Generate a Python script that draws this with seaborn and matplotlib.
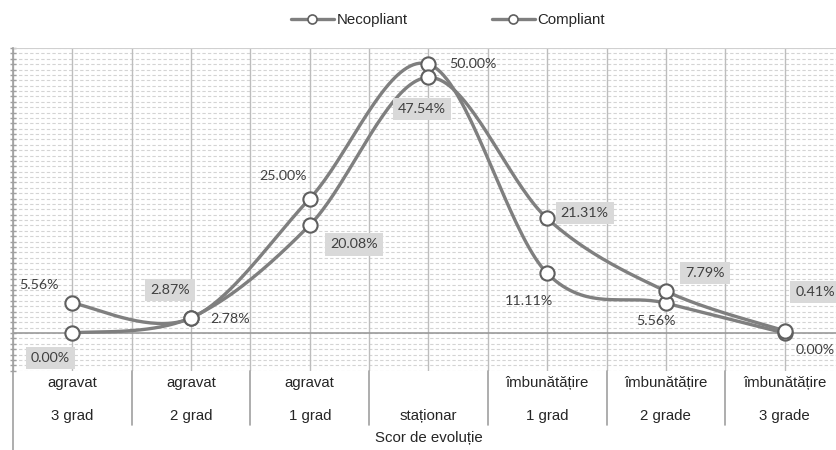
import numpy as np
import pandas as pd
import matplotlib
matplotlib.use("Agg")
import matplotlib.pyplot as plt
from matplotlib.lines import Line2D
import seaborn as sns

# --- data -----------------------------------------------------------------
cat_top = ["agravat", "agravat", "agravat", "", "îmbunătățire", "îmbunătățire", "îmbunătățire"]
cat_bottom = ["3 grad", "2 grad", "1 grad", "staționar", "1 grad", "2 grade", "3 grade"]
necopliant = [5.56, 2.78, 25.00, 50.00, 11.11, 5.56, 0.00]
compliant = [0.00, 2.87, 20.08, 47.54, 21.31, 7.79, 0.41]
series_names = ["Necopliant", "Compliant"]
axis_title = "Scor de evoluție"

# label offsets in points (dx, dy) relative to each marker
nec_offsets = [(-24, 13), (28, -1), (-19, 16), (32, 0), (-13, -20), (-7, -13), (22, -12)]
comp_offsets = [(-16, -18), (-15, 20), (32, -14), (-5, -23), (27, 4), (28, 13), (22, 28)]

sns.set_theme(style="white")
plt.rcParams["font.family"] = ["Liberation Sans", "DejaVu Sans"]

LINE = "#7f7f7f"
EDGE = "#5f5f5f"
TXT = "#404040"
LABEL_FONT = ["Lato", "DejaVu Sans"]
AX_FS = 10.8
LB_FS = 10.3

fig = plt.figure(figsize=(8.37, 4.5), dpi=100)
W, H = 837, 450
left, right, top, bottom = 13, 844, 48, 370.7
ax = fig.add_axes([left / W, (H - bottom) / H, (right - left) / W, (bottom - top) / H])
ax.set_xlim(-0.5, 6.5)
ax.set_ylim(-7, 53)


def smooth(xs, ys, n=40):
    """Cubic Bezier smoothing through every point (Catmull-Rom style)."""
    p = np.column_stack([xs, ys]).astype(float)
    ext = np.vstack([p[0], p, p[-1]])
    out = []
    t = np.linspace(0, 1, n)[:, None]
    for i in range(len(p) - 1):
        p0, p1, p2, p3 = ext[i], ext[i + 1], ext[i + 2], ext[i + 3]
        c1 = p1 + (p2 - p0) / 6.0
        c2 = p2 - (p3 - p1) / 6.0
        seg = ((1 - t) ** 3) * p1 + 3 * ((1 - t) ** 2) * t * c1 + 3 * (1 - t) * t ** 2 * c2 + t ** 3 * p2
        out.append(seg if i == 0 else seg[1:])
    return np.vstack(out)


# grid: dashed horizontal every 1 %, vertical at centers and boundaries
for yv in np.arange(-7, 53.5, 1):
    ax.axhline(yv, color="#d4d4d4", lw=0.8, ls=(0, (3, 2)), zorder=0)
for xv in np.arange(-0.5, 6.6, 0.5):
    ax.axvline(xv, color="#bdbdbd", lw=1.0, zorder=0.5)
ax.axhline(0, color="#9a9a9a", lw=1.2, zorder=1)
ax.axhline(53, color="#d0d0d0", lw=1.5, zorder=1)

for s in ["top", "right", "bottom"]:
    ax.spines[s].set_visible(False)
ax.spines["left"].set_color("#a0a0a0")
ax.spines["left"].set_linewidth(1.2)
ax.set_xticks([])
ax.set_yticks(np.arange(-7, 54, 1))
ax.set_yticklabels([])
ax.tick_params(axis="y", direction="inout", length=5, width=1, color="#a0a0a0", left=True)

x = np.arange(len(cat_bottom))
for vals in (necopliant, compliant):
    curve = smooth(x, vals)
    df = pd.DataFrame({"x": curve[:, 0], "y": curve[:, 1]})
    sns.lineplot(data=df, x="x", y="y", sort=False, estimator=None, ax=ax,
                 color=LINE, lw=2.4, zorder=3)
for vals in (necopliant, compliant):
    sns.scatterplot(x=x, y=vals, ax=ax, s=105, color="white", edgecolor=EDGE,
                    linewidth=1.5, zorder=4)
ax.set_xlabel("")
ax.set_ylabel("")

# data labels
for i, (v, (dx, dy)) in enumerate(zip(necopliant, nec_offsets)):
    ax.annotate(f"{v:.2f}%", (i, v), xytext=(dx, dy), textcoords="offset points",
                ha="center", va="center", fontsize=LB_FS, color=TXT, family=LABEL_FONT,
                zorder=5)
for i, (v, (dx, dy)) in enumerate(zip(compliant, comp_offsets)):
    ax.annotate(f"{v:.2f}%", (i, v), xytext=(dx, dy), textcoords="offset points",
                ha="center", va="center", fontsize=LB_FS, color=TXT, family=LABEL_FONT,
                zorder=5,
                bbox=dict(boxstyle="square,pad=0.35", fc="#d9d9d9", ec="none"))

# category labels below the plot area
for i, (a, b) in enumerate(zip(cat_top, cat_bottom)):
    if a:
        ax.annotate(a, (i, 0), xycoords=("data", "axes fraction"), xytext=(0, -9),
                    textcoords="offset points", ha="center", va="center",
                    fontsize=AX_FS, color="#262626")
    ax.annotate(b, (i, 0), xycoords=("data", "axes fraction"), xytext=(0, -32.5),
                textcoords="offset points", ha="center", va="center",
                fontsize=AX_FS, color="#262626")
ax.annotate(axis_title, (3, 0), xycoords=("data", "axes fraction"), xytext=(0, -48.5),
            textcoords="offset points", ha="center", va="center",
            fontsize=AX_FS, color="#262626")

# dividers between category labels and the extended left axis line
trans = ax.get_xaxis_transform()
for xv in np.arange(0.5, 6, 1):
    ax.plot([xv, xv], [0, -0.168], transform=trans, color="#a0a0a0", lw=1.2, clip_on=False)
ax.plot([-0.5, -0.5], [0, -0.3], transform=trans, color="#a0a0a0", lw=1.2, clip_on=False)

# legend
handles = [Line2D([0], [0], color=LINE, lw=2.4, marker="o", markersize=6.5,
                  markerfacecolor="white", markeredgecolor=EDGE, markeredgewidth=1.2)
           for _ in series_names]
fig.legend(handles, series_names, loc="center", bbox_to_anchor=(0.535, 0.955), ncol=2,
           frameon=False, fontsize=AX_FS, handlelength=2.9, handletextpad=0.15,
           columnspacing=5.6, labelcolor="#262626")

fig.savefig("out.png", dpi=100)
